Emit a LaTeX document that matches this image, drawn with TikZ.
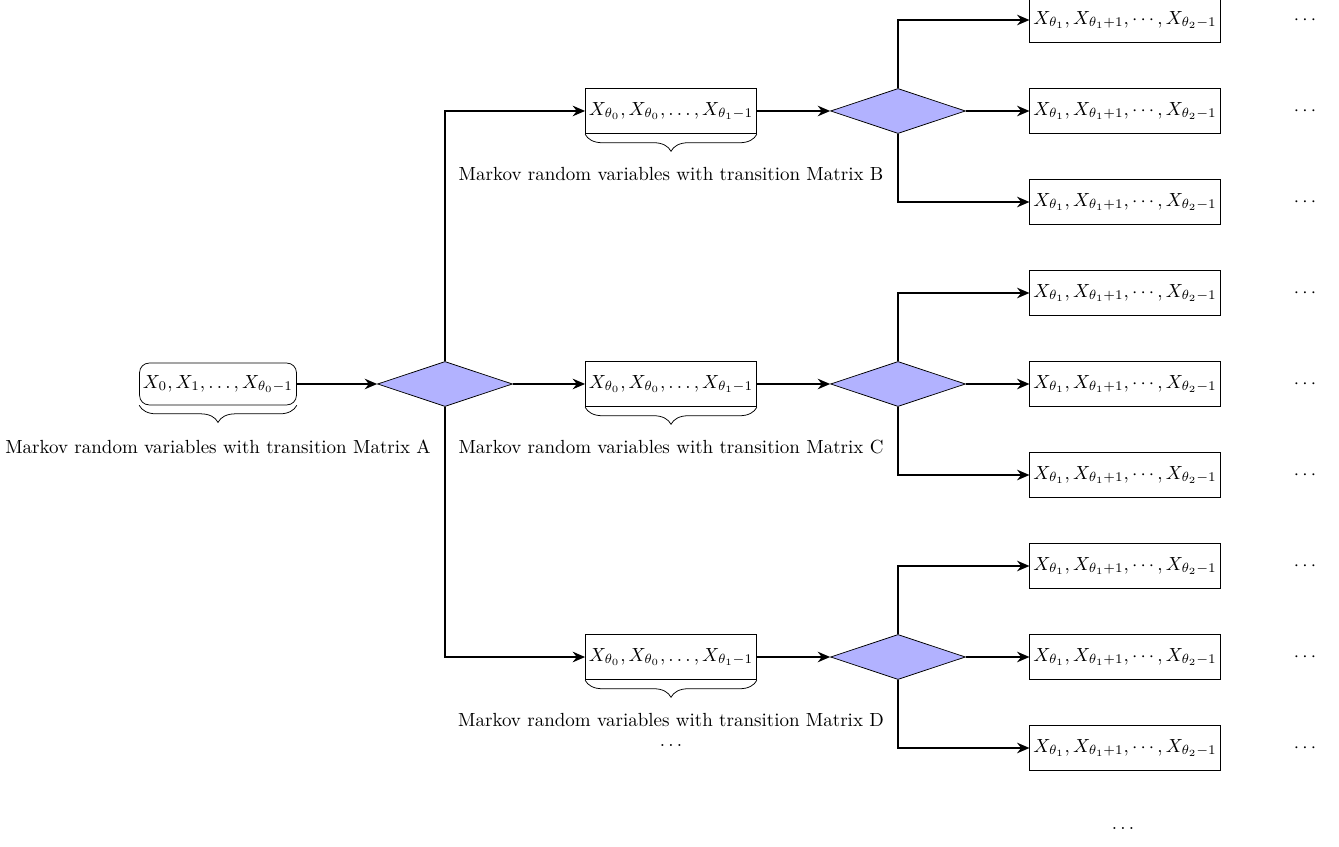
\documentclass[tikz,border=0pt]{standalone}
\usetikzlibrary{shapes.geometric,arrows.meta,decorations.pathreplacing}
\begin{document}
\begin{tikzpicture}[x=0.0185cm,y=-0.0185cm,
  conn/.style={line width=1.1pt,-{Stealth[length=6.5pt,width=5.5pt]}},
  seqbox/.style={draw,rectangle,minimum height=24pt,inner xsep=1.8pt,inner ysep=2.5pt},
  firstbox/.style={draw,rectangle,rounded corners=5pt,minimum height=22pt,inner xsep=1.8pt,inner ysep=2.5pt},
  decide/.style={draw,diamond,fill=blue!30,minimum width=71pt,minimum height=23.7pt,inner sep=0pt},
  lbl/.style={inner sep=0pt},
  bracestyle/.style={decorate,decoration={brace,mirror,amplitude=9pt}}]
\useasboundingbox (0,0) rectangle (1339,847);
% first stage
\node[firstbox] (a) at (218,384) {$X_0,X_1,\ldots,X_{\theta_0-1}$};
\draw[bracestyle] (a.south west) -- (a.south east);
\node[lbl] (la) at (218,447) {Markov random variables with transition Matrix A};
\node[decide] (d1) at (445,384) {};
\draw[conn] (a) -- (d1);
% second stage
\foreach \n/\y/\m in {b/111/B,c/384/C,d/657/D}{
  \node[seqbox] (\n) at (671,\y) {$X_{\theta_0},X_{\theta_0},\ldots,X_{\theta_1-1}$};
  \draw[bracestyle] (\n.south west) -- (\n.south east);
  \node[lbl] (l\n) at (671,\y+63) {Markov random variables with transition Matrix \m};
  \node[decide] (d\n) at (898,\y) {};
  \draw[conn] (\n) -- (d\n);
  \foreach \k/\dy in {1/-91,2/0,3/91}{
    \node[seqbox] (r\n\k) at (1125,\y+\dy) {$X_{\theta_1},X_{\theta_1+1},\cdots,X_{\theta_2-1}$};
    \node[lbl] (p\n\k) at (1305,\y+\dy) {$\cdots$};
  }
  \draw[conn] (d\n.north) |- (r\n1.west);
  \draw[conn] (d\n) -- (r\n2);
  \draw[conn] (d\n.south) |- (r\n3.west);
}
\draw[conn] (d1.north) |- (b.west);
\draw[conn] (d1) -- (c);
\draw[conn] (d1.south) |- (d.west);
\node[lbl] (dotsd) at (671,745) {$\ldots$};
\node[lbl] (dotsend) at (1123,828) {$\ldots$};
\end{tikzpicture}
\end{document}
